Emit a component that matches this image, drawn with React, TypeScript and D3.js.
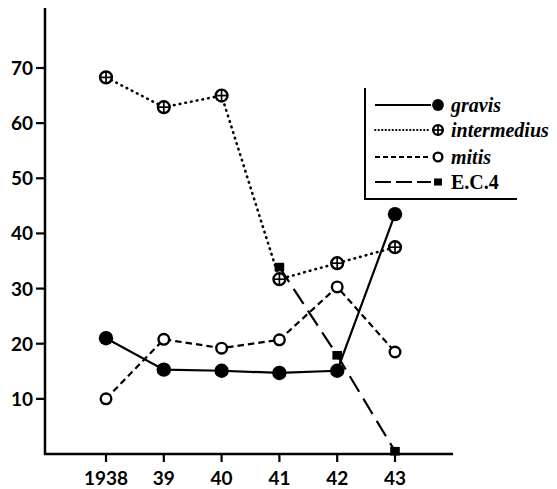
import React from "react";
import * as d3 from "d3";

const years = [1938, 1939, 1940, 1941, 1942, 1943];
const yearLabels = ["1938", "39", "40", "41", "42", "43"];
const yTicks = [10, 20, 30, 40, 50, 60, 70];

const gravis: (number | null)[] = [21.0, 15.3, 15.1, 14.7, 15.1, 43.5];
const intermedius: (number | null)[] = [68.3, 62.9, 65.0, 31.7, 34.6, 37.5];
const mitis: (number | null)[] = [10.0, 20.8, 19.2, 20.7, 30.3, 18.5];
const ec4: (number | null)[] = [null, null, null, 33.9, 17.9, 0.5];

const seriesNames = ["gravis", "intermedius", "mitis", "E.C.4"];

export default function App() {
  const W = 557, H = 489;
  const x = d3.scaleLinear().domain([1938, 1943]).range([106, 395]);
  const y = d3.scaleLinear().domain([0, 70]).range([454, 68]);

  const line = d3
    .line<[number, number | null]>()
    .defined((d) => d[1] !== null)
    .x((d) => x(d[0]))
    .y((d) => y(d[1] as number));

  const mk = (vals: (number | null)[]) => years.map((yr, i) => [yr, vals[i]] as [number, number | null]);

  const styles = [
    { vals: gravis, dash: "none", marker: "filled" },
    { vals: intermedius, dash: "0.6,5.2", marker: "plus" },
    { vals: mitis, dash: "6.5,4", marker: "open" },
    { vals: ec4, dash: "18,8", marker: "square" },
  ];

  const marker = (type: string, cx: number, cy: number, s: number, key: string) => {
    if (type === "filled") return <circle key={key} cx={cx} cy={cy} r={7.2 * s} fill="#000" />;
    if (type === "open")
      return <circle key={key} cx={cx} cy={cy} r={5.3 * s} fill="#fff" stroke="#000" strokeWidth={2.4} />;
    if (type === "plus") {
      const r = 5.9 * s;
      return (
        <g key={key}>
          <circle cx={cx} cy={cy} r={r} fill="#fff" stroke="#000" strokeWidth={2.4} />
          <line x1={cx - r} x2={cx + r} y1={cy} y2={cy} stroke="#000" strokeWidth={1.7} />
          <line x1={cx} x2={cx} y1={cy - r} y2={cy + r} stroke="#000" strokeWidth={1.7} />
        </g>
      );
    }
    return <rect key={key} x={cx - 4.8 * s} y={cy - 4.3 * s} width={9.6 * s} height={8.6 * s} fill="#000" />;
  };

  const legendRows = [105, 130, 157, 182];

  return (
    <svg width={W} height={H} style={{ position: "absolute", left: 0, top: 0, background: "#fff" }}>
      <rect width={W} height={H} fill="#fff" />
      {/* axes */}
      <line x1={45} x2={45} y1={8} y2={455} stroke="#000" strokeWidth={2.5} />
      <line x1={44} x2={453} y1={454} y2={454} stroke="#000" strokeWidth={2.5} />
      {yTicks.map((t) => (
        <g key={t}>
          <line x1={36} x2={45} y1={y(t)} y2={y(t)} stroke="#000" strokeWidth={2.2} />
          <text x={33} y={y(t)} dy="0.37em" textAnchor="end" fontFamily="Lato" fontWeight={700} fontSize={19}>
            {t}
          </text>
        </g>
      ))}
      {years.map((yr, i) => (
        <g key={yr}>
          <line x1={x(yr)} x2={x(yr)} y1={454} y2={462} stroke="#000" strokeWidth={2.2} />
          <text x={x(yr)} y={485} textAnchor="middle" fontFamily="Lato" fontWeight={700} fontSize={19}>
            {yearLabels[i]}
          </text>
        </g>
      ))}
      {/* series */}
      {styles.map((s, si) => (
        <path
          key={"l" + si}
          d={line(mk(s.vals)) || ""}
          fill="none"
          stroke="#000"
          strokeWidth={si === 1 ? 2.6 : 2.2}
          strokeDasharray={s.dash}
          strokeLinecap={si === 1 ? "round" : "butt"}
        />
      ))}
      {styles.map((s, si) =>
        mk(s.vals)
          .filter((d) => d[1] !== null)
          .map((d, i) => marker(s.marker, x(d[0]), y(d[1] as number), 1, `m${si}-${i}`))
      )}
      {/* legend */}
      <line x1={365} x2={365} y1={88} y2={200} stroke="#000" strokeWidth={2} />
      <line x1={364} x2={517} y1={199} y2={199} stroke="#000" strokeWidth={2} />
      {styles.map((s, si) => (
        <g key={"lg" + si}>
          <line
            x1={375}
            x2={431}
            y1={legendRows[si]}
            y2={legendRows[si]}
            stroke="#000"
            strokeWidth={si === 1 ? 1.8 : 2.2}
            strokeLinecap={si === 1 ? "round" : "butt"}
            strokeDasharray={si === 1 ? "0.5,3" : si === 2 ? "5,3" : si === 3 ? "16,5" : "none"}
          />
          {marker(s.marker, 438, legendRows[si], 0.82, "lm" + si)}
          <text
            x={451}
            y={legendRows[si]}
            dy="0.33em"
            fontFamily="Liberation Serif"
            fontWeight={700}
            fontStyle={si === 3 ? "normal" : "italic"}
            fontSize={20}
          >
            {seriesNames[si]}
          </text>
        </g>
      ))}
    </svg>
  );
}
